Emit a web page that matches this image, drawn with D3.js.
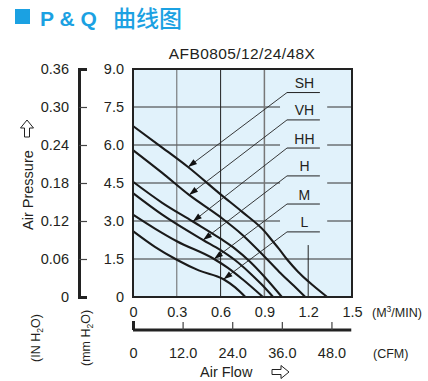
<!DOCTYPE html>
<html><head><meta charset="utf-8">
<script src="https://cdn.jsdelivr.net/npm/d3@7"></script>
<style>
html,body{margin:0;padding:0;background:#fff;}
text{font-family:"Liberation Sans",Arial,sans-serif;fill:#231f20;}
</style></head>
<body><svg id="c" width="428" height="381"></svg>
<script>
// ---- data ----
const seriesNames = ["SH","VH","HH","H","M","L"];
const flowSH = [0,0.2,0.377,0.6,0.75,0.9,0.95,1.0,1.06,1.13,1.2,1.33];
const presSH = [6.75,5.9,5.13,4.05,3.35,2.6,2.25,1.9,1.45,1.0,0.62,0];
const flowVH = [0,0.2,0.384,0.6,0.75,0.9,1.0,1.1,1.18];
const presVH = [5.8,4.9,4.03,3.15,2.45,1.6,1.0,0.45,0];
const flowHH = [0,0.2,0.41,0.6,0.7,0.8,0.9,1.02];
const presHH = [4.55,3.72,2.98,2.3,1.9,1.4,0.8,0];
const flowH  = [0,0.2,0.48,0.6,0.7,0.8,0.88,0.96];
const presH  = [4.1,3.25,2.25,1.85,1.45,0.95,0.5,0];
const flowM  = [0,0.15,0.3,0.555,0.65,0.75,0.89];
const presM  = [3.25,2.7,2.2,1.5,1.15,0.7,0];
const flowL  = [0,0.15,0.3,0.45,0.62,0.7,0.77];
const presL  = [2.6,1.98,1.47,1.05,0.7,0.38,0];
const tipFlow = [0.377,0.384,0.41,0.48,0.555,0.62];   // where each leader arrow touches its curve
const labelPres = [8.07,6.99,5.88,4.78,3.67,2.57];    // level of each label underline (mmH2O)
const xTicks = [0,0.3,0.6,0.9,1.2,1.5];
const mmTicks = [0,1.5,3.0,4.5,6.0,7.5,9.0];
const inTicks = [0,0.06,0.12,0.18,0.24,0.30,0.36];
const cfmTicks = [0,12,24,36,48];
const title = "AFB0805/12/24/48X";

const flows = [flowSH,flowVH,flowHH,flowH,flowM,flowL];
const press = [presSH,presVH,presHH,presH,presM,presL];

const svg = d3.select("#c");
const x = d3.scaleLinear([0,1.5],[133,352]);
const y = d3.scaleLinear([0,9],[297,69]);
const yIn = d3.scaleLinear([0,0.36],[297,69]);
const cfm = d3.scaleLinear([0,1.5*35.315],[133,352]);

// header
svg.append("rect").attr("x",15).attr("y",9).attr("width",15).attr("height",15).attr("fill","#1ba1e2");
svg.append("text").attr("x",40).attr("y",26).style("font-size","21px").style("font-weight","bold")
  .style("fill","#1ba1e2").attr("xml:space","preserve").text("P & Q");
svg.append("text").attr("x",113).attr("y",27).style("font-size","23px")
  .style("font-family","'Noto Sans CJK SC',sans-serif").style("font-weight","500")
  .style("fill","#1ba1e2").text("曲线图");

// title
svg.append("text").attr("x",242).attr("y",59).attr("text-anchor","middle")
  .style("font-size","15.5px").style("letter-spacing","0.4px").text(title);

// plot background
svg.append("rect").attr("x",x(0)).attr("y",y(9)).attr("width",x(1.5)-x(0)).attr("height",y(0)-y(9))
  .attr("fill","#e1f2fb");

// grid
const g = svg.append("g");
[7.5,6.0,4.5,3.0].forEach(v=>{
  g.append("line").attr("x1",x(0)).attr("x2",x(1.007)).attr("y1",y(v)).attr("y2",y(v)).attr("stroke","#333").attr("stroke-width",1);
  g.append("line").attr("x1",x(1.33)).attr("x2",x(1.5)).attr("y1",y(v)).attr("y2",y(v)).attr("stroke","#333").attr("stroke-width",1);
});
g.append("line").attr("x1",x(0)).attr("x2",x(1.5)).attr("y1",y(1.5)).attr("y2",y(1.5)).attr("stroke","#333").attr("stroke-width",1);
[[0.3,"#666",9],[0.6,"#222",9],[0.9,"#777",9],[1.2,"#222",2.05]].forEach(([v,c,top])=>{
  g.append("line").attr("x1",x(v)).attr("x2",x(v)).attr("y1",y(0)).attr("y2",y(top)).attr("stroke",c).attr("stroke-width",v===0.9?1.5:1);
});

// curves
const line = d3.line().x(d=>x(d[0])).y(d=>y(d[1])).curve(d3.curveMonotoneX);
flows.forEach((f,i)=>{
  const pts = f.map((v,j)=>[v,press[i][j]]);
  svg.append("path").attr("d",line(pts)).attr("fill","none").attr("stroke","#1a1a1a").attr("stroke-width",2.1);
});

// labels + leaders
const ulX0 = 1.055, ulX1 = 1.28;
seriesNames.forEach((n,i)=>{
  const yy = labelPres[i];
  const j = flows[i].indexOf(tipFlow[i]);
  const tx = x(tipFlow[i]), ty = y(press[i][j]);
  const sx = x(ulX0), sy = y(yy);
  svg.append("line").attr("x1",sx).attr("x2",x(ulX1)).attr("y1",sy).attr("y2",sy).attr("stroke","#222").attr("stroke-width",1);
  svg.append("line").attr("x1",sx).attr("y1",sy).attr("x2",tx).attr("y2",ty).attr("stroke","#222").attr("stroke-width",0.9);
  const dx = tx-sx, dy = ty-sy, L = Math.hypot(dx,dy), ux = dx/L, uy = dy/L;
  const hl = 9, hw = 3;
  const bx = tx-ux*hl, by = ty-uy*hl;
  svg.append("path").attr("d",`M${tx},${ty}L${bx-uy*hw},${by+ux*hw}L${bx+uy*hw},${by-ux*hw}Z`).attr("fill","#111");
  svg.append("text").attr("x",(x(ulX0)+x(ulX1))/2+1).attr("y",sy-4.5).attr("text-anchor","middle")
    .style("font-size","14px").text(n);
});

// plot frame
svg.append("rect").attr("x",x(0)).attr("y",y(9)).attr("width",x(1.5)-x(0)).attr("height",y(0)-y(9))
  .attr("fill","none").attr("stroke","#222").attr("stroke-width",2);

// left axes
const fmtIn = d=> d===0?"0":d.toFixed(2);
const fmtMm = d=> d===0?"0":d.toFixed(1);
const aIn = svg.append("g").attr("transform","translate(70,0)")
  .call(d3.axisLeft(yIn).tickValues(inTicks).tickSize(0).tickPadding(1).tickFormat(fmtIn));
aIn.select(".domain").remove();
const aMm = svg.append("g").attr("transform","translate(125,0)")
  .call(d3.axisLeft(y).tickValues(mmTicks).tickSize(0).tickPadding(1).tickFormat(fmtMm));
aMm.select(".domain").remove();
[aIn,aMm].forEach(a=>a.selectAll("text").style("font-size","14.5px").style("font-family","'Liberation Sans',Arial,sans-serif").attr("fill","#231f20"));

const br = svg.append("g").attr("transform","translate(79,0)")
  .call(d3.axisRight(yIn).tickValues(inTicks.slice(1,-1)).tickSize(8).tickSizeOuter(8).tickFormat(""));
br.select(".domain").attr("stroke","#222").attr("stroke-width",3);
br.selectAll(".tick line").attr("stroke","#444").attr("stroke-width",1.2);

// bottom axes
const aX = svg.append("g").attr("transform","translate(0,305)")
  .call(d3.axisBottom(x).tickValues(xTicks).tickSize(0).tickPadding(2).tickFormat(d=>d===0?"0":d.toFixed(1)));
aX.select(".domain").remove();
const cb = svg.append("g").attr("transform","translate(0,330)")
  .call(d3.axisTop(cfm).tickValues(cfmTicks).tickSize(8).tickSizeOuter(0).tickFormat(""));
cb.select(".domain").attr("stroke","#222").attr("stroke-width",3).attr("d",`M${cfm(0)},0H${x(1.495)}`);
cb.selectAll(".tick line").attr("stroke","#444").attr("stroke-width",1.2);
cb.selectAll(".tick").filter(d=>d===0).select("line").attr("stroke","#222").attr("stroke-width",3).attr("y2",-9);
const aC = svg.append("g").attr("transform","translate(0,343)")
  .call(d3.axisBottom(cfm).tickValues(cfmTicks).tickSize(0).tickPadding(5).tickFormat(d=>d===0?"0":d.toFixed(1)));
aC.select(".domain").remove();
[aX,aC].forEach(a=>a.selectAll("text").style("font-size","14.5px").style("font-family","'Liberation Sans',Arial,sans-serif").attr("fill","#231f20"));

// unit labels
const u1 = svg.append("text").attr("x",372).attr("y",317).style("font-size","12.5px");
u1.append("tspan").text("(M");
u1.append("tspan").attr("dy",-5).style("font-size","8.5px").text("3");
u1.append("tspan").attr("dy",5).text("/MIN)");
svg.append("text").attr("x",373).attr("y",358).style("font-size","12.5px").text("(CFM)");

// axis titles
svg.append("text").attr("x",200).attr("y",377).style("font-size","14.5px").text("Air Flow");
svg.append("path").attr("transform","translate(272,372)")
  .attr("d","M0,-2.5H9V-6.5L17,0L9,6.5V2.5H0Z").attr("fill","#fff").attr("stroke","#222").attr("stroke-width",1);

svg.append("text").attr("transform","translate(33,230) rotate(-90)").style("font-size","14.5px").text("Air Pressure");
svg.append("path").attr("transform","translate(27,137) rotate(-90)")
  .attr("d","M0,-2.5H9V-6.5L17,0L9,6.5V2.5H0Z").attr("fill","#fff").attr("stroke","#222").attr("stroke-width",1);

function unitRot(xx,yy,pre){
  const t = svg.append("text").attr("transform",`translate(${xx},${yy}) rotate(-90)`).style("font-size","12.5px");
  t.append("tspan").text(pre+" H");
  t.append("tspan").attr("dy",3).style("font-size","8.5px").text("2");
  t.append("tspan").attr("dy",-3).text("O)");
}
unitRot(40,362,"(IN");
unitRot(90,366,"(mm");
</script></body></html>
